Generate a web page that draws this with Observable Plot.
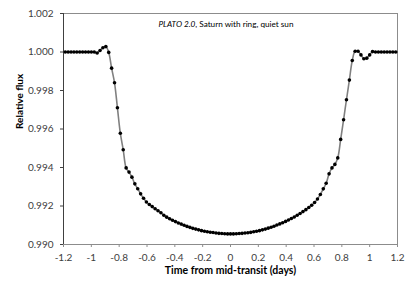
<!DOCTYPE html>
<html><head><meta charset="utf-8">
<script src="https://cdn.jsdelivr.net/npm/d3@7"></script>
<script src="https://cdn.jsdelivr.net/npm/@observablehq/plot@0.6"></script>
<style>body{margin:0;background:#fff} svg{font-family:Lato,sans-serif}</style>
</head><body><div id="chart"></div>
<script>
const time = [
-1.1875,-1.1667,-1.1458,-1.125,-1.1042,-1.0833,-1.0625,-1.0417,-1.0208,-1.0,
-0.9792,-0.9583,-0.9375,-0.9167,-0.8958,-0.875,-0.8542,-0.8333,-0.8125,-0.7917,
-0.7708,-0.75,-0.7292,-0.7083,-0.6875,-0.6667,-0.6458,-0.625,-0.6042,-0.5833,
-0.5625,-0.5417,-0.5208,-0.5,-0.4792,-0.4583,-0.4375,-0.4167,-0.3958,-0.375,
-0.3542,-0.3333,-0.3125,-0.2917,-0.2708,-0.25,-0.2292,-0.2083,-0.1875,-0.1667,
-0.1458,-0.125,-0.1042,-0.0833,-0.0625,-0.0417,-0.0208,0,
0.0208,0.0417,0.0625,0.0833,0.1042,0.125,0.1458,0.1667,0.1875,0.2083,
0.2292,0.25,0.2708,0.2917,0.3125,0.3333,0.3542,0.375,0.3958,0.4167,
0.4375,0.4583,0.4792,0.5,0.5208,0.5417,0.5625,0.5833,0.6042,0.625,
0.6458,0.6667,0.6875,0.7083,0.7292,0.75,0.7708,0.7917,0.8125,0.8333,
0.8542,0.875,0.8958,0.9167,0.9375,0.9583,0.9792,1.0,1.0208,1.0417,
1.0625,1.0833,1.1042,1.125,1.1458,1.1667,1.1875
];
const flux = [
1.0000,1.0000,1.0000,1.0000,1.0000,1.0000,1.0000,1.0000,1.0000,1.0000,
1.0000,0.99995,1.00008,1.00022,1.00028,0.99998,0.99916,0.99840,0.99710,0.99578,
0.99492,0.99398,0.99376,0.99350,0.99315,0.99290,0.99263,0.99240,0.99221,0.99208,
0.99197,0.99186,0.99175,0.99165,0.99152,0.99142,0.99134,0.99126,0.99119,0.99112,
0.99106,0.99100,0.99094,0.99089,0.99084,0.99080,0.99076,0.99072,0.99069,0.99066,
0.99064,0.99062,0.99060,0.99058,0.99057,0.99056,0.99055,0.99055,
0.99055,0.99056,0.99057,0.99058,0.99060,0.99061,0.99063,0.99066,0.99069,0.99072,
0.99076,0.99080,0.99085,0.99090,0.99095,0.99101,0.99107,0.99113,0.99120,0.99127,
0.99135,0.99143,0.99152,0.99161,0.99171,0.99181,0.99192,0.99204,0.99218,0.99236,
0.99260,0.99289,0.99318,0.99367,0.99398,0.99416,0.99450,0.99546,0.99648,0.99752,
0.99854,0.99956,1.00004,1.00004,0.99985,0.99965,0.99968,0.99985,1.00002,1.0000,
1.0000,1.0000,1.0000,1.0000,1.0000,1.0000,1.0000
];
const xTicks = [-1.2,-1,-0.8,-0.6,-0.4,-0.2,0,0.2,0.4,0.6,0.8,1,1.2];
const yTicks = [0.990,0.992,0.994,0.996,0.998,1.000,1.002];
const titleItalic = "PLATO 2.0";
const titleRest = ", Saturn with ring, quiet sun";
const xLabel = "Time from mid-transit (days)";
const yLabel = "Relative flux";

const data = time.map((t, i) => ({t, f: flux[i]}));

const chart = Plot.plot({
  width: 415, height: 293,
  marginLeft: 63, marginRight: 18, marginTop: 13, marginBottom: 49,
  style: {fontFamily: "Lato, sans-serif", fontSize: "10px", color: "#404040", background: "#fff"},
  x: {domain: [-1.2, 1.2]},
  y: {domain: [0.990, 1.002]},
  marks: [
    Plot.ruleY([1.002], {stroke: "#8c8c8c"}),
    Plot.ruleX([1.2], {stroke: "#8c8c8c"}),
    Plot.axisX({ticks: xTicks, tickSize: 3, tickPadding: 6, tickFormat: d => String(+d.toFixed(1)), stroke: "#8c8c8c", fill: "#404040", label: null}),
    Plot.axisY({ticks: yTicks, tickSize: 3, tickPadding: 7, tickFormat: d => d.toFixed(3), stroke: "#404040", fill: "#404040", label: null}),
    Plot.ruleY([0.990], {stroke: "#8c8c8c"}),
    Plot.ruleX([-1.2], {stroke: "#404040"}),
    Plot.line(data, {x: "t", y: "f", stroke: "#808080", strokeWidth: 1.6, curve: "catmull-rom"}),
    Plot.dot(data, {x: "t", y: "f", r: 1.8, fill: "#000", stroke: null}),
    Plot.text([xLabel], {frameAnchor: "bottom", dy: 29, text: d => d, fontWeight: "bold", fontSize: 10.5, fill: "#000"}),
    Plot.text([yLabel], {frameAnchor: "left", dx: -44, rotate: -90, text: d => d, fontWeight: "bold", fontSize: 10, fill: "#000"})
  ]
});

const title = d3.select(chart).append("text")
  .attr("x", 226).attr("y", 27).attr("text-anchor", "middle")
  .attr("font-size", 8.2).attr("fill", "#000");
title.append("tspan").attr("font-style", "italic").text(titleItalic);
title.append("tspan").text(titleRest);

document.getElementById("chart").append(chart);
</script>
</body></html>
